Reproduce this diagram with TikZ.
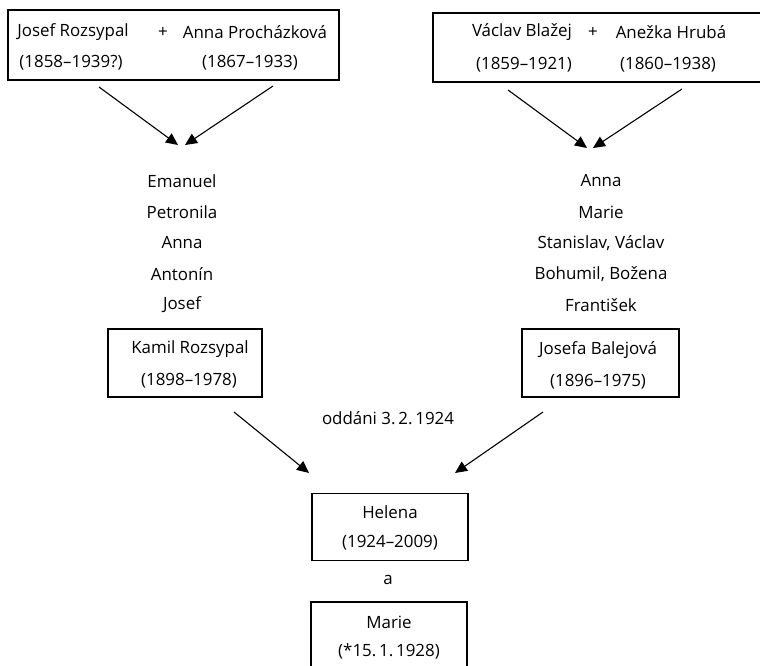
\documentclass[tikz,border=0pt]{standalone}
\usepackage{fontspec}
\setmainfont{Open Sans}
\usetikzlibrary{arrows.meta}
\begin{document}
\begin{tikzpicture}[x=1pt,y=-1pt,
  lbl/.style={inner sep=0pt,anchor=center,font=\fontsize{16.9}{20}\selectfont},
  famBox/.style={draw=black,line width=1.3pt,inner sep=0pt},
  arr/.style={-{Triangle[length=12pt,width=11pt]},line width=1.1pt}]
\useasboundingbox (0,0) rectangle (760,666);
\clip (0,0) rectangle (760,666);
% top-left couple
\node[famBox,minimum width=331pt,minimum height=70pt] (b1) at (173.5,45) {};
\node[lbl] (jr) at (73,32) {Josef Rozsypal};
\node[lbl] (p1) at (163,32) {+};
\node[lbl] (ap) at (255,32) {Anna Procházková};
\node[lbl] (jrd) at (71,63) {(1858–1939?)};
\node[lbl] (apd) at (250,63) {(1867–1933)};
% top-right couple
\node[famBox,minimum width=357pt,minimum height=69pt] (b2) at (611.5,47.5) {};
\node[lbl] (vb) at (522,32) {Václav Blažej};
\node[lbl] (p2) at (593,32) {+};
\node[lbl] (ah) at (671,32) {Anežka Hrubá};
\node[lbl] (vbd) at (524,65) {(1859–1921)};
\node[lbl] (ahd) at (668,65) {(1860–1938)};
% arrows to children
\coordinate (a1s) at (99,87);  \coordinate (a1e) at (178,145);
\coordinate (a2s) at (273,86); \coordinate (a2e) at (185,145);
\coordinate (a3s) at (508,90); \coordinate (a3e) at (587,148);
\coordinate (a4s) at (682,89); \coordinate (a4e) at (593,148);
\draw[arr] (a1s) -- (a1e);
\draw[arr] (a2s) -- (a2e);
\draw[arr] (a3s) -- (a3e);
\draw[arr] (a4s) -- (a4e);
% children lists
\node[lbl] (l1) at (182,181) {Emanuel};
\node[lbl] (l2) at (182,212) {Petronila};
\node[lbl] (l3) at (182,243) {Anna};
\node[lbl] (l4) at (182,274) {Antonín};
\node[lbl] (l5) at (182,305) {Josef};
\node[lbl] (r1) at (601,181) {Anna};
\node[lbl] (r2) at (601,212) {Marie};
\node[lbl] (r3) at (601,243) {Stanislav, Václav};
\node[lbl] (r4) at (601,274) {Bohumil, Božena};
\node[lbl] (r5) at (601,305) {František};
% parents
\node[famBox,minimum width=154pt,minimum height=68pt] (kb) at (185,363) {};
\node[lbl] (k1) at (190,349) {Kamil Rozsypal};
\node[lbl] (k2) at (189,381) {(1898–1978)};
\node[famBox,minimum width=157pt,minimum height=68pt] (jb) at (600.5,363) {};
\node[lbl] (j1) at (598,350) {Josefa Balejová};
\node[lbl] (j2) at (598,382) {(1896–1975)};
\node[lbl] (odd) at (388,418) {oddáni 3.\,2.\,1924};
\coordinate (a5s) at (234,412); \coordinate (a5e) at (309,473);
\coordinate (a6s) at (543,412); \coordinate (a6e) at (455,473);
\draw[arr] (a5s) -- (a5e);
\draw[arr] (a6s) -- (a6e);
% daughters
\node[famBox,minimum width=156pt,minimum height=67pt] (hb) at (390,527) {};
\node[lbl] (h1) at (390,512) {Helena};
\node[lbl] (h2) at (390,543) {(1924–2009)};
\node[lbl] (aa) at (388,580) {a};
\node[famBox,minimum width=156pt,minimum height=90pt] (mb) at (389,647) {};
\node[lbl] (m1) at (389,622) {Marie};
\node[lbl] (m2) at (389,651) {(*15.\,1.\,1928)};
\end{tikzpicture}
\end{document}
